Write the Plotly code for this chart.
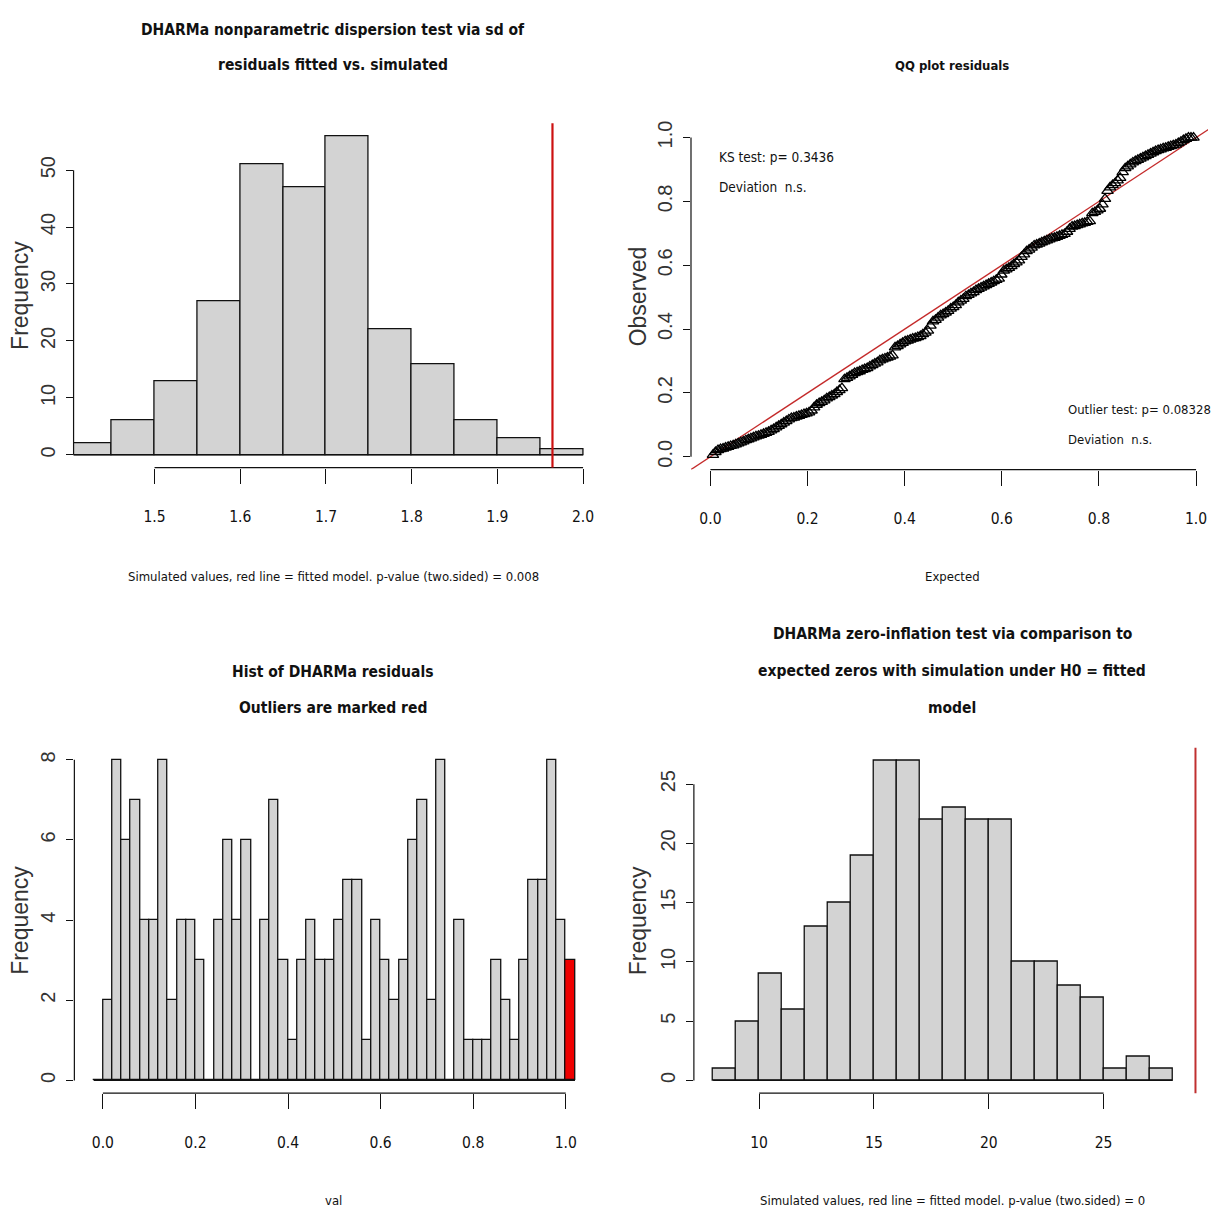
import plotly.graph_objects as go

# ---------------- data ----------------
# Panel 1: dispersion test histogram (simulated sd values)
disp_breaks = [1.40, 1.45, 1.50, 1.55, 1.60, 1.65, 1.70, 1.75, 1.80, 1.85, 1.90, 1.95, 2.00]
disp_counts = [2, 6, 13, 27, 51, 47, 56, 22, 16, 6, 3, 1]
disp_observed = 1.9643
disp_xticks = [1.5, 1.6, 1.7, 1.8, 1.9, 2.0]
disp_xticktext = ["1.5", "1.6", "1.7", "1.8", "1.9", "2.0"]
disp_yticks = [0, 10, 20, 30, 40, 50]
disp_yticktext = ["0", "10", "20", "30", "40", "50"]

# Panel 2: QQ plot, sorted scaled residuals
qq_observed = [
    0.006, 0.015,
    0.021, 0.024, 0.026, 0.029, 0.031, 0.034, 0.036, 0.039,
    0.042, 0.045, 0.048, 0.052, 0.055, 0.058,
    0.061, 0.064, 0.066, 0.069, 0.072, 0.075, 0.078,
    0.083, 0.087, 0.092, 0.097,
    0.102, 0.107, 0.112, 0.117,
    0.121, 0.123, 0.126, 0.128, 0.131, 0.134, 0.136, 0.139,
    0.145, 0.155,
    0.163, 0.168, 0.172, 0.177,
    0.183, 0.187, 0.192, 0.196,
    0.203, 0.209, 0.215,
    0.243, 0.247, 0.252, 0.257,
    0.262, 0.265, 0.268, 0.272, 0.275, 0.278,
    0.283, 0.287, 0.292, 0.296,
    0.302, 0.305, 0.308, 0.311, 0.314, 0.318,
    0.343, 0.347, 0.352, 0.357,
    0.362, 0.364, 0.367, 0.370, 0.372, 0.375, 0.378,
    0.384, 0.389, 0.395,
    0.411,
    0.424, 0.429, 0.436,
    0.443, 0.447, 0.452, 0.457,
    0.464, 0.469, 0.475,
    0.484, 0.489, 0.495,
    0.503, 0.507, 0.512, 0.516,
    0.522, 0.526, 0.530, 0.534, 0.538,
    0.542, 0.546, 0.550, 0.554, 0.558,
    0.571,
    0.583, 0.587, 0.592, 0.597,
    0.604, 0.609, 0.615,
    0.626, 0.634,
    0.644, 0.649, 0.655,
    0.662, 0.665, 0.668, 0.672, 0.675, 0.678,
    0.681, 0.684, 0.686, 0.689, 0.692, 0.695, 0.698,
    0.705, 0.714,
    0.721, 0.723, 0.726, 0.728, 0.731, 0.733, 0.736, 0.738,
    0.763, 0.767, 0.772, 0.777,
    0.791,
    0.808,
    0.833,
    0.844, 0.851, 0.857,
    0.866, 0.874,
    0.892,
    0.904, 0.910, 0.916,
    0.922, 0.926, 0.930, 0.934, 0.938,
    0.942, 0.946, 0.950, 0.954, 0.958,
    0.961, 0.963, 0.966, 0.968, 0.971, 0.973, 0.976, 0.978,
    0.983, 0.987, 0.992, 0.996,
    1.0, 1.0, 1.0,
]
qq_ticks = [0.0, 0.2, 0.4, 0.6, 0.8, 1.0]
qq_ticktext = ["0.0", "0.2", "0.4", "0.6", "0.8", "1.0"]
qq_ks_text = ["KS test: p= 0.3436", "Deviation\u00a0 n.s."]
qq_outlier_text = ["Outlier test: p= 0.08328", "Deviation\u00a0 n.s."]

# Panel 3: histogram of DHARMa residuals (first and last bins = outliers)
res_breaks = [-0.02, 0.00, 0.02, 0.04, 0.06, 0.08, 0.10, 0.12, 0.14, 0.16, 0.18,
              0.20, 0.22, 0.24, 0.26, 0.28, 0.30, 0.32, 0.34, 0.36, 0.38,
              0.40, 0.42, 0.44, 0.46, 0.48, 0.50, 0.52, 0.54, 0.56, 0.58,
              0.60, 0.62, 0.64, 0.66, 0.68, 0.70, 0.72, 0.74, 0.76, 0.78,
              0.80, 0.82, 0.84, 0.86, 0.88, 0.90, 0.92, 0.94, 0.96, 0.98,
              1.00, 1.02]
res_counts = [0,
              2, 8, 6, 7, 4, 4, 8, 2, 4, 4,
              3, 0, 4, 6, 4, 6, 0, 4, 7, 3,
              1, 3, 4, 3, 3, 4, 5, 5, 1, 4,
              3, 2, 3, 6, 7, 2, 8, 0, 4, 1,
              1, 1, 3, 2, 1, 3, 5, 5, 8, 4,
              3]
res_is_outlier = [True] + [False] * 50 + [True]
res_xticks = [0.0, 0.2, 0.4, 0.6, 0.8, 1.0]
res_xticktext = ["0.0", "0.2", "0.4", "0.6", "0.8", "1.0"]
res_yticks = [0, 2, 4, 6, 8]
res_yticktext = ["0", "2", "4", "6", "8"]

# Panel 4: zero-inflation test histogram
zi_breaks = [8, 9, 10, 11, 12, 13, 14, 15, 16, 17, 18, 19, 20, 21, 22, 23, 24, 25, 26, 27, 28]
zi_counts = [1, 5, 9, 6, 13, 15, 19, 27, 27, 22, 23, 22, 22, 10, 10, 8, 7, 1, 2, 1]
zi_observed = 29
zi_xticks = [10, 15, 20, 25]
zi_xticktext = ["10", "15", "20", "25"]
zi_yticks = [0, 5, 10, 15, 20, 25]
zi_yticktext = ["0", "5", "10", "15", "20", "25"]

# ---------------- style ----------------
W = H = 1215
NARROW = "DejaVu Sans Condensed, Liberation Sans Narrow, Arial Narrow, sans-serif"
WIDE = "Liberation Sans, Arial, sans-serif"
BAR_FILL = "#d3d3d3"
BAR_LINE = "#111111"
TXT = "#111111"


def px_x(px):
    return px / W


def px_y(py):
    return 1 - py / H


def mids(breaks):
    return [(a + b) / 2 for a, b in zip(breaks[:-1], breaks[1:])]


def widths(breaks):
    return [b - a for a, b in zip(breaks[:-1], breaks[1:])]


fig = go.Figure()

# ---- Panel 1
fig.add_trace(go.Bar(x=mids(disp_breaks), y=disp_counts, width=widths(disp_breaks),
                     marker=dict(color=BAR_FILL, line=dict(color=BAR_LINE, width=1.3)),
                     xaxis="x", yaxis="y", showlegend=False, hoverinfo="x+y"))
fig.add_trace(go.Scatter(x=[disp_breaks[0], disp_breaks[-1]], y=[0, 0], mode="lines",
                         line=dict(color=BAR_LINE, width=1.3), xaxis="x", yaxis="y",
                         showlegend=False, hoverinfo="skip"))

# ---- Panel 2
n = len(qq_observed)
qq_expected = [(i + 1) / (n + 1) for i in range(n)]
fig.add_trace(go.Scatter(x=[-0.04, 1.04], y=[-0.04, 1.04], mode="lines",
                         line=dict(color="#c42a2a", width=1.3),
                         xaxis="x2", yaxis="y2", showlegend=False, hoverinfo="skip"))
fig.add_trace(go.Scatter(x=qq_expected, y=qq_observed, mode="markers",
                         marker=dict(symbol="triangle-up-open", size=10, color="#000000",
                                     line=dict(width=1.3)),
                         xaxis="x2", yaxis="y2", showlegend=False, cliponaxis=False))

# ---- Panel 3
res_colors = ["#ee0000" if o else BAR_FILL for o in res_is_outlier]
fig.add_trace(go.Bar(x=mids(res_breaks), y=res_counts, width=widths(res_breaks),
                     marker=dict(color=res_colors, line=dict(color=BAR_LINE, width=1.3)),
                     xaxis="x3", yaxis="y3", showlegend=False, hoverinfo="x+y"))
fig.add_trace(go.Scatter(x=[res_breaks[0], res_breaks[-1]], y=[0, 0], mode="lines",
                         line=dict(color=BAR_LINE, width=1.3), xaxis="x3", yaxis="y3",
                         showlegend=False, hoverinfo="skip"))

# ---- Panel 4
fig.add_trace(go.Bar(x=mids(zi_breaks), y=zi_counts, width=widths(zi_breaks),
                     marker=dict(color=BAR_FILL, line=dict(color=BAR_LINE, width=1.3)),
                     xaxis="x4", yaxis="y4", showlegend=False, hoverinfo="x+y"))
fig.add_trace(go.Scatter(x=[zi_breaks[0], zi_breaks[-1]], y=[0, 0], mode="lines",
                         line=dict(color=BAR_LINE, width=1.3), xaxis="x4", yaxis="y4",
                         showlegend=False, hoverinfo="skip"))

# ---------------- axes ----------------
def xax(domain, rng, tickvals, ticktext):
    return dict(domain=domain, range=rng, tickmode="array", tickvals=tickvals, ticktext=ticktext,
                ticks="outside", ticklen=15, tickwidth=1.2, tickcolor="#111111",
                ticklabelstandoff=20,
                showline=False, showgrid=False, zeroline=False, fixedrange=True,
                tickfont=dict(family=NARROW, size=15.5, color=TXT))


def yax(domain, rng, tickvals, ticktext, anchor):
    return dict(domain=domain, range=rng, tickmode="array", tickvals=tickvals, ticktext=ticktext,
                ticks="outside", ticklen=7, tickwidth=1.2, tickcolor="#111111",
                tickangle=-90, ticklabelstandoff=3, anchor=anchor,
                showline=False, showgrid=False, zeroline=False, fixedrange=True,
                tickfont=dict(family=WIDE, size=20, color="#333333"))


fig.update_layout(
    xaxis=xax([px_x(74), px_x(590.5)], [1.4055, 2.0047], disp_xticks, disp_xticktext) | dict(anchor="y"),
    yaxis=yax([px_y(465.1), px_y(119.6)], [-2.24, 58.24], disp_yticks, disp_yticktext, "x"),
    xaxis2=xax([px_x(695), 1.0], [-0.04, 1.0246], qq_ticks, qq_ticktext) | dict(anchor="y2"),
    yaxis2=yax([px_y(467.1), px_y(121.2)], [-0.04, 1.04], qq_ticks, qq_ticktext, "x2"),
    xaxis3=xax([px_x(74.8), px_x(597.7)], [-0.0616, 1.0616], res_xticks, res_xticktext) | dict(anchor="y3"),
    yaxis3=yax([px_y(1092.8), px_y(745.5)], [-0.32, 8.32], res_yticks, res_yticktext, "x3"),
    xaxis4=xax([px_x(697.9), 1.0], [7.16, 29.545], zi_xticks, zi_xticktext) | dict(anchor="y4"),
    yaxis4=yax([px_y(1092.8), px_y(746.1)], [-1.08, 28.08], zi_yticks, zi_yticktext, "x4"),
)

# axis lines spanning only from first to last tick (R style)
shapes = []
axis_sets = [("x", "y", disp_xticks, disp_yticks),
             ("x2", "y2", qq_ticks, qq_ticks),
             ("x3", "y3", res_xticks, res_yticks),
             ("x4", "y4", zi_xticks, zi_yticks)]
for xa, ya, xt, yt in axis_sets:
    shapes.append(dict(type="line", xref=xa, yref=f"{ya} domain", x0=xt[0], x1=xt[-1], y0=0, y1=0,
                       line=dict(color="#111111", width=1.2), layer="above"))
    shapes.append(dict(type="line", xref=f"{xa} domain", yref=ya, x0=0, x1=0, y0=yt[0], y1=yt[-1],
                       line=dict(color="#111111", width=1.2), layer="above"))
# observed-value red lines
shapes.append(dict(type="line", xref="x", yref="y domain", x0=disp_observed, x1=disp_observed,
                   y0=0, y1=1, line=dict(color="#cc1111", width=2.2), layer="above"))
shapes.append(dict(type="line", xref="x4", yref="y4 domain", x0=zi_observed, x1=zi_observed,
                   y0=0, y1=1, line=dict(color="#c03030", width=2), layer="above"))
fig.update_layout(shapes=shapes)

# ---------------- text ----------------
anns = []


def ann(text, px, py, size, family=NARROW, bold=False, angle=0, xanchor="center", color=TXT):
    t = f"<b>{text}</b>" if bold else text
    anns.append(dict(text=t, x=px_x(px), y=px_y(py), xref="paper", yref="paper",
                     xanchor=xanchor, yanchor="middle", showarrow=False, textangle=angle,
                     font=dict(family=family, size=size, color=color)))


# titles
TS = 15.5
ann("DHARMa nonparametric dispersion test via sd of", 335, 26, TS, bold=True)
ann("residuals fitted vs. simulated", 335, 61, TS, bold=True)
ann("QQ plot residuals", 958, 62, 13, bold=True)
ann("Hist of DHARMa residuals", 335, 670, TS, bold=True)
ann("Outliers are marked red", 335, 706, TS, bold=True)
ann("DHARMa zero-inflation test via comparison to", 958, 632, TS, bold=True)
ann("expected zeros with simulation under H0 = fitted", 958, 669, TS, bold=True)
ann("model", 958, 706, TS, bold=True)

# axis titles
AS = 13
ann("Simulated values, red line = fitted model. p-value (two.sided) = 0.008", 335, 574, AS)
ann("Expected", 958, 574, AS)
ann("val", 335, 1200, AS)
ann("Simulated values, red line = fitted model. p-value (two.sided) = 0", 958, 1200, AS)
ann("Frequency", 20, 292, 23, family=WIDE, angle=-90, color="#333333")
ann("Observed", 642, 293, 23, family=WIDE, angle=-90, color="#333333")
ann("Frequency", 20, 919, 23, family=WIDE, angle=-90, color="#333333")
ann("Frequency", 642, 920, 23, family=WIDE, angle=-90, color="#333333")

# QQ test annotations
QS = 13.5
ann(qq_ks_text[0], 721, 154, QS, xanchor="left")
ann(qq_ks_text[1], 721, 184, QS, xanchor="left")
ann(qq_outlier_text[0], 1072, 407, 13, xanchor="left")
ann(qq_outlier_text[1], 1072, 437, 13, xanchor="left")

fig.update_layout(
    annotations=anns,
    width=W, height=H,
    margin=dict(l=0, r=0, t=0, b=0),
    paper_bgcolor="white", plot_bgcolor="white",
    bargap=0, showlegend=False,
    font=dict(family=NARROW, color=TXT),
)

fig.write_html("out.html", config={"displayModeBar": False},
               post_script="document.body.style.margin='0px';document.body.style.overflow='hidden';")
